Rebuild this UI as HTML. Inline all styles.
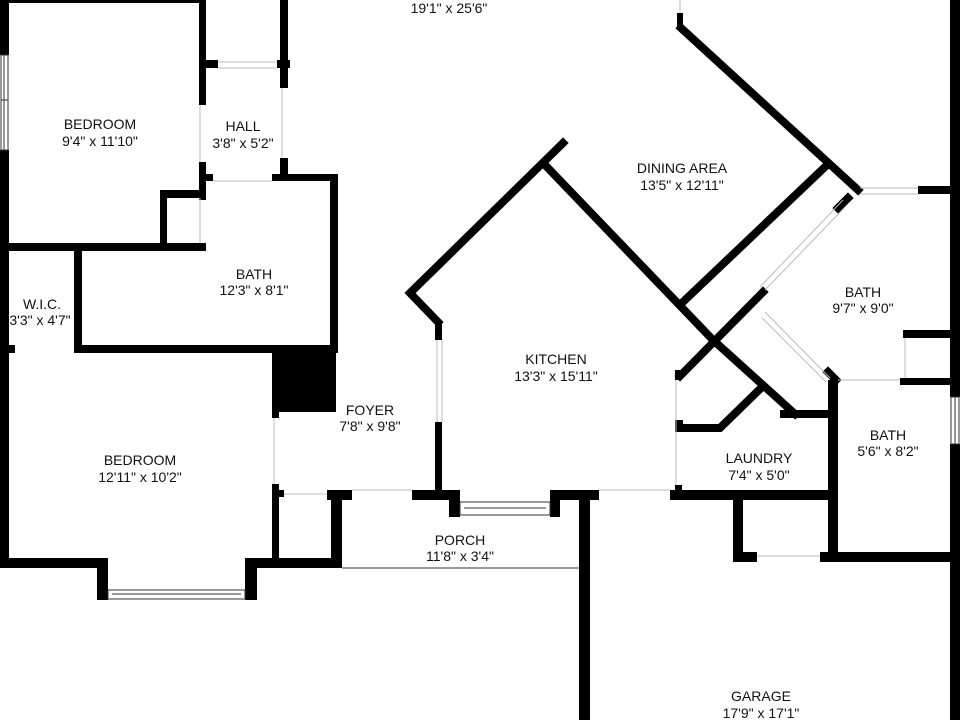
<!DOCTYPE html>
<html><head><meta charset="utf-8"><style>
html,body{margin:0;padding:0;background:#fff;}
svg{display:block;}
text{font-family:"Liberation Sans",sans-serif;font-size:14px;fill:#111;text-anchor:middle;}
</style></head><body>
<svg width="960" height="720" viewBox="0 0 960 720" xmlns="http://www.w3.org/2000/svg">
<g fill="#000">
<rect x="0" y="0" width="9" height="55"/>
<rect x="0" y="150" width="9" height="418"/>
<rect x="9" y="0" width="196" height="3"/>
<rect x="199" y="0" width="7" height="105"/>
<rect x="199" y="162" width="7" height="38"/>
<rect x="205" y="60" width="13" height="8"/>
<rect x="277" y="60" width="13" height="8"/>
<rect x="280" y="0" width="8" height="88"/>
<rect x="280" y="158" width="8" height="22"/>
<rect x="199" y="174" width="14" height="7"/>
<rect x="272" y="174" width="66" height="7"/>
<rect x="330" y="174" width="8" height="178"/>
<rect x="160" y="190" width="46" height="8"/>
<rect x="160" y="190" width="7" height="58"/>
<rect x="0" y="243" width="206" height="8"/>
<rect x="74" y="248" width="8" height="104"/>
<rect x="74" y="345" width="264" height="8"/>
<rect x="0" y="345" width="15" height="8"/>
<rect x="272" y="345" width="64" height="67"/>
<rect x="272" y="345" width="7" height="73"/>
<rect x="272" y="484" width="7" height="84"/>
<rect x="0" y="558" width="108" height="10"/>
<rect x="97" y="558" width="11" height="42"/>
<rect x="245" y="558" width="12" height="42"/>
<rect x="245" y="558" width="97" height="10"/>
<rect x="331" y="490" width="11" height="78"/>
<rect x="272" y="490" width="12" height="7"/>
<rect x="327" y="490" width="25" height="10"/>
<rect x="412" y="490" width="48" height="10"/>
<rect x="435" y="422" width="7" height="78"/>
<rect x="435" y="322" width="7" height="18"/>
<rect x="449" y="490" width="11" height="27"/>
<rect x="550" y="490" width="10" height="27"/>
<rect x="550" y="490" width="49" height="10"/>
<rect x="579" y="500" width="11" height="220"/>
<rect x="670" y="490" width="168" height="10"/>
<rect x="675" y="485" width="7" height="15"/>
<rect x="733" y="500" width="10" height="62"/>
<rect x="733" y="552" width="24" height="10"/>
<rect x="820" y="552" width="140" height="10"/>
<rect x="828" y="380" width="10" height="182"/>
<rect x="830" y="378" width="8" height="7"/>
<rect x="900" y="378" width="50" height="7"/>
<rect x="903" y="330" width="47" height="8"/>
<rect x="675" y="420" width="8" height="12"/>
<rect x="675" y="370" width="7" height="10"/>
<rect x="780" y="410" width="50" height="8"/>
<rect x="950" y="0" width="10" height="397"/>
<rect x="950" y="444" width="10" height="276"/>
<rect x="918" y="186" width="32" height="8"/>
<rect x="677" y="13" width="6" height="16"/>
</g>
<g stroke="#000" stroke-width="8" fill="none" stroke-linecap="square">
<polyline points="563,143 410,293 438,322"/>
<polyline points="547,167 713,340 795,414"/>
<line x1="681" y1="28" x2="858" y2="190"/>
<line x1="685" y1="300" x2="827" y2="165"/>
<line x1="680" y1="376" x2="763" y2="292"/>
<polyline points="680,428 720,428 762,387"/>
<line x1="848" y1="198" x2="838" y2="208"/>
<line x1="828" y1="372" x2="836" y2="380"/>
</g>
<g stroke="#bbb" stroke-width="1" fill="none">
<line x1="218" y1="62" x2="277" y2="62"/><line x1="218" y1="68" x2="277" y2="68"/>
<line x1="213" y1="181" x2="272" y2="181"/>
<line x1="282" y1="88" x2="282" y2="158"/>
<line x1="200" y1="105" x2="200" y2="162"/>
<line x1="200" y1="198" x2="200" y2="243"/>
<line x1="437" y1="340" x2="437" y2="422"/><line x1="442" y1="340" x2="442" y2="422"/>
<line x1="274" y1="418" x2="274" y2="484"/>
<line x1="284" y1="494" x2="327" y2="494"/>
<line x1="352" y1="490" x2="412" y2="490"/>
<line x1="599" y1="490" x2="670" y2="490"/>
<line x1="676" y1="380" x2="676" y2="485"/>
<line x1="757" y1="556" x2="820" y2="556"/>
<line x1="860" y1="188" x2="918" y2="188"/><line x1="860" y1="194" x2="918" y2="194"/>
<line x1="838" y1="380" x2="900" y2="380"/>
<line x1="905" y1="338" x2="905" y2="378"/>
<line x1="848" y1="204" x2="765" y2="290"/><line x1="843" y1="200" x2="760" y2="287"/>
<line x1="765" y1="312" x2="830" y2="378"/><line x1="762" y1="318" x2="826" y2="382"/>
<line x1="680" y1="0" x2="680" y2="13"/>
</g>
<g stroke="#333" stroke-width="1" fill="none">
<rect x="1" y="55" width="7" height="95"/><line x1="4" y1="55" x2="4" y2="150"/><line x1="1" y1="100" x2="8" y2="100"/>
<rect x="108" y="590" width="137" height="9"/><line x1="112" y1="594" x2="241" y2="594"/>
<rect x="460" y="502" width="90" height="13"/><line x1="464" y1="508" x2="546" y2="508"/>
<rect x="951" y="397" width="8" height="47"/><line x1="955" y1="397" x2="955" y2="444"/>
<line x1="342" y1="568" x2="579" y2="568"/>
</g>
<text x="449" y="13">19'1" x 25'6"</text>
<text x="100" y="129">BEDROOM</text><text x="100" y="146">9'4" x 11'10"</text>
<text x="243" y="131">HALL</text><text x="243" y="148">3'8" x 5'2"</text>
<text x="254" y="279">BATH</text><text x="254" y="295">12'3" x 8'1"</text>
<text x="42" y="309">W.I.C.</text><text x="40" y="325">3'3" x 4'7"</text>
<text x="682" y="173">DINING AREA</text><text x="682" y="190">13'5" x 12'11"</text>
<text x="863" y="297">BATH</text><text x="863" y="313">9'7" x 9'0"</text>
<text x="556" y="364">KITCHEN</text><text x="556" y="381">13'3" x 15'11"</text>
<text x="370" y="415">FOYER</text><text x="370" y="431">7'8" x 9'8"</text>
<text x="140" y="465">BEDROOM</text><text x="140" y="482">12'11" x 10'2"</text>
<text x="759" y="463">LAUNDRY</text><text x="759" y="480">7'4" x 5'0"</text>
<text x="888" y="440">BATH</text><text x="888" y="456">5'6" x 8'2"</text>
<text x="460" y="545">PORCH</text><text x="460" y="561">11'8" x 3'4"</text>
<text x="761" y="701">GARAGE</text><text x="761" y="718">17'9" x 17'1"</text>
</svg>
</body></html>
